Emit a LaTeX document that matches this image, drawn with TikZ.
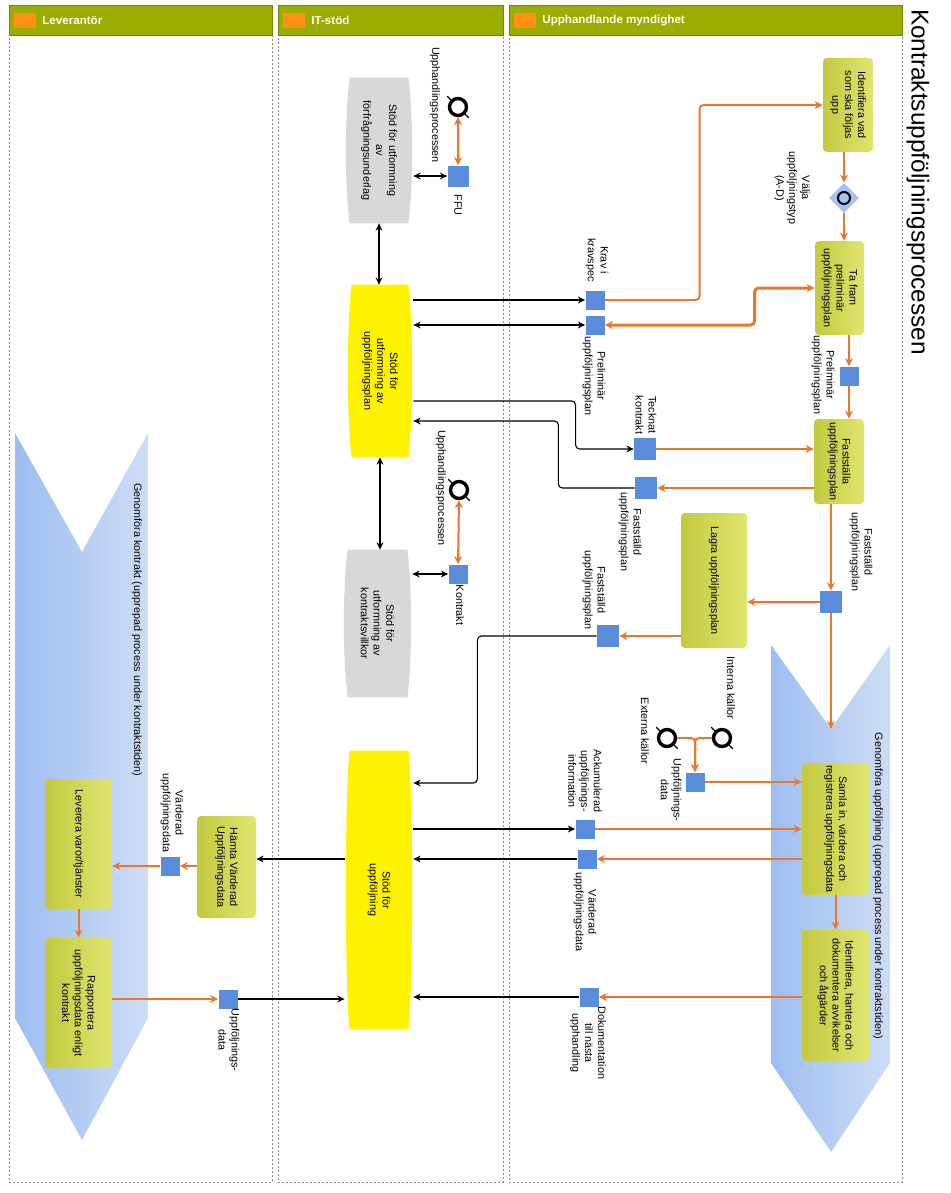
\documentclass[tikz,border=0pt]{standalone}
\usepackage{fontspec}
\setmainfont{Liberation Sans}
\usetikzlibrary{arrows.meta,calc,positioning,shapes.geometric}

\definecolor{olive1}{RGB}{196,201,64}
\definecolor{olive2}{RGB}{224,229,112}
\definecolor{hdrgreen}{RGB}{155,172,2}
\definecolor{hdredge}{RGB}{118,132,0}
\definecolor{arrorange}{RGB}{232,120,48}
\definecolor{docblue}{RGB}{90,140,220}
\definecolor{chevA}{RGB}{157,189,240}
\definecolor{chevB}{RGB}{206,221,246}
\definecolor{gwblue}{RGB}{165,195,242}
\definecolor{sysgray}{RGB}{216,216,216}
\definecolor{lanegray}{RGB}{140,140,140}
\definecolor{iconorange}{RGB}{255,145,25}

\begin{document}
\begin{tikzpicture}[x=0.5pt, y=-0.5pt,
  >={Stealth[length=4pt,width=4pt]},
  lbl/.style={rotate=-90, align=center, inner sep=0pt, font=\fontsize{5.4}{6.4}\selectfont},
  hdr/.style={anchor=west, inner sep=0pt, text=white!95!yellow, font=\bfseries\fontsize{5.8}{7}\selectfont},
  task/.style={left color=olive1, right color=olive2, rounded corners=2pt, inner sep=0pt},
  sys/.style={inner sep=0pt},
  doc/.style={fill=docblue, minimum size=9.5pt, inner sep=0pt},
  ring/.style={circle, draw, line width=1.7pt, minimum size=8.5pt, inner sep=0pt},
  oarr/.style={draw=arrorange, line width=1pt, rounded corners=2pt, ->},
  barr/.style={draw=black, line width=0.55pt, rounded corners=2pt, >={Stealth[length=3.6pt,width=3.4pt]}, ->},
]
\useasboundingbox (0,0) rectangle (950,1193);

% swimlanes
\foreach \xa/\xb/\ln in {9/272/Leverantör, 278/503/IT-stöd, 509/902/Upphandlande myndighet} {
  \draw[lanegray, line width=0.4pt, dash pattern=on 1pt off 1pt] (\xa,34) rectangle (\xb,1182);
  \draw[fill=hdrgreen, draw=hdredge, line width=0.4pt] (\xa,5) rectangle (\xb,35);
  \fill[iconorange] (\xa+5,13) rectangle (\xa+27,28);
  \node[hdr] (hdr-\xa) at (\xa+33,20.5) {\ln};
}
\node[rotate=-90, inner sep=0pt, font=\fontsize{12.2}{14}\selectfont] (title) at (918,182) {Kontraktsuppföljningsprocessen};

% repeated processes (chevrons)
\shade[left color=chevA, middle color=chevA!80!chevB, right color=chevB] (771,645) -- (831,729) -- (890,645) -- (890,1063) -- (831,1152) -- (771,1063) -- cycle;
\shade[left color=chevA, middle color=chevA!80!chevB, right color=chevB] (15,433) -- (82,552) -- (148,433) -- (148,1018) -- (82,1140) -- (15,1018) -- cycle;
\coordinate (notchU) at (831,729);
\node[lbl] (chevUpLbl) at (878,886) {Genomföra uppföljning (upprepad process under kontraktstiden)};
\node[lbl] (chevLevLbl) at (137,630) {Genomföra kontrakt (upprepad process under kontraktstiden)};

% IT systems
\node[sys, minimum width=34pt, minimum height=72.5pt] (ffuSys) at (379,150.5) {};
\node[sys, minimum width=33pt, minimum height=86pt] (utfSys) at (380,371) {};
\node[sys, minimum width=34.5pt, minimum height=73.5pt] (kontSys) at (377.5,623.5) {};
\node[sys, minimum width=34pt, minimum height=139pt] (uppSys) at (379,890) {};
\foreach \n/\c in {ffuSys/sysgray, kontSys/sysgray, utfSys/yellow, uppSys/yellow}
  \fill[\c] ([xshift=2.5pt]\n.north west) -- ([xshift=-2.5pt]\n.north east)
    .. controls ([yshift=-20pt]\n.north east) and ([yshift=20pt]\n.south east) .. ([xshift=-2.5pt]\n.south east)
    -- ([xshift=2.5pt]\n.south west)
    .. controls ([yshift=20pt]\n.south west) and ([yshift=-20pt]\n.north west) .. ([xshift=2.5pt]\n.north west) -- cycle;
\node[lbl] (ffuSysT) at (ffuSys) {Stöd för utformning\\av\\förfrågningsunderlag};
\node[lbl] (utfSysT) at (utfSys) {Stöd för\\utformning av\\uppföljningsplan};
\node[lbl] (kontSysT) at (kontSys) {Stöd för\\utformning av\\kontraktsvillkor};
\node[lbl] (uppSysT) at (uppSys) {Stöd för\\uppföljning};

% tasks
\node[task, minimum width=25pt, minimum height=47pt] (ident) at (848,105) {};
\node[task, minimum width=24.5pt, minimum height=47pt] (tafram) at (839.5,288) {};
\node[task, minimum width=25pt, minimum height=42.5pt] (faststalla) at (839,461.5) {};
\node[task, minimum width=33pt, minimum height=67.5pt] (lagra) at (714,580.5) {};
\node[task, minimum width=33.5pt, minimum height=66pt] (samla) at (835.5,829) {};
\node[task, minimum width=33.5pt, minimum height=65.5pt] (avvik) at (835.5,995.5) {};
\node[task, minimum width=29.5pt, minimum height=51pt] (hamta) at (226.5,867) {};
\node[task, minimum width=33.5pt, minimum height=65pt] (leverera) at (78.5,844) {};
\node[task, minimum width=33.5pt, minimum height=65pt] (rapp) at (78.5,1003) {};
\node[lbl] (identT) at (ident) {Identifiera vad\\som ska följas\\upp};
\node[lbl] (taframT) at (tafram) {Ta fram\\preliminär\\uppföljningsplan};
\node[lbl] (faststallaT) at (faststalla) {Fastställa\\uppföljningsplan};
\node[lbl] (lagraT) at (lagra) {Lagra uppföljningsplan};
\node[lbl] (samlaT) at (samla) {Samla in, värdera och\\registrera uppföljningsdata};
\node[lbl] (avvikT) at (avvik) {Identifiera, hantera och\\dokumentera avvikelser\\och åtgärder};
\node[lbl] (hamtaT) at (hamta) {Hämta Värderad\\Uppföljningsdata};
\node[lbl] (levereraT) at (leverera) {Leverera varor/tjänster};
\node[lbl] (rappT) at (rapp) {Rapportera\\uppföljningsdata enligt\\kontrakt};

% gateway
\node[diamond, fill=gwblue, minimum size=15pt, inner sep=0pt] (gw) at (844,198) {};
\node[circle, draw, line width=1pt, minimum size=6pt, inner sep=0pt] (gwMark) at (gw) {};

% data objects
\node[doc, minimum size=10.5pt] (ffuSq) at (458,176) {};
\node[doc] (kontSq) at (458,574) {};
\node[doc] (kravSq) at (595,300) {};
\node[doc] (prelSq) at (595,325) {};
\node[doc, minimum size=11pt] (tecknSq) at (645,449) {};
\node[doc, minimum size=11pt] (fastdSq) at (646,488) {};
\node[doc] (prel2Sq) at (849,376) {};
\node[doc, minimum size=11pt] (fast2Sq) at (831,602) {};
\node[doc, minimum size=11pt] (fast3Sq) at (608,636) {};
\node[doc] (udSq) at (695,782) {};
\node[doc] (ackSq) at (585,829) {};
\node[doc] (vardSq) at (587,859) {};
\node[doc] (dokSq) at (589,997) {};
\node[doc] (levVardSq) at (170,866) {};
\node[doc] (levUdSq) at (228,999) {};

% link events
\node[ring] (ffuRing) at (458,107) {};
\node[ring] (kontRing) at (459,490) {};
\node[ring] (intRing) at (722,738) {};
\node[ring] (extRing) at (667,738) {};
\foreach \r in {ffuRing, kontRing, intRing, extRing}
  \draw[line width=0.6pt] (\r.north west) -- ++(-1.8pt,1.8pt) (\r.south east) -- ++(1.8pt,-1.8pt);

% flows in Upphandlande myndighet
\draw[oarr] (gw.north |- ident.south) -- (gw.north);
\draw[oarr] (gw.south) -- (gw.south |- tafram.north);
\draw[oarr] (kravSq.east) -| ([xshift=-61.5pt]ident.west) -- (ident.west);
\draw[oarr, <->, line width=1.5pt] (prelSq.east) -| ([xshift=-30pt]tafram.west) -- (tafram.west);
\draw[oarr] (prel2Sq.north |- tafram.south) -- (prel2Sq.north);
\draw[oarr] (prel2Sq.south) -- (prel2Sq.south |- faststalla.north);
\draw[oarr] (tecknSq.east) -- (tecknSq -| faststalla.west);
\draw[oarr] (fastdSq -| faststalla.west) -- (fastdSq.east);
\draw[oarr] (fast2Sq.north |- faststalla.south) -- (fast2Sq.north);
\draw[oarr] (fast2Sq.west) -- (fast2Sq -| lagra.east);
\draw[oarr] (fast2Sq.south) -- (notchU);
\draw[oarr] (fast3Sq -| lagra.west) -- (fast3Sq.east);
\draw[oarr] (intRing.west) -| (udSq.north);
\draw[oarr] (extRing.east) -| (udSq.north);
\draw[oarr] (udSq.east) -- (udSq -| samla.west);
\draw[oarr] (ackSq.east) -- (ackSq -| samla.west);
\draw[oarr] (vardSq -| samla.west) -- (vardSq.east);
\draw[oarr] (samla.south) -- (avvik.north);
\draw[oarr] (dokSq -| avvik.west) -- (dokSq.east);

% flows in IT-stöd
\draw[oarr, <->] (ffuRing.south) -- (ffuSq.north);
\draw[oarr, <->] (kontRing.south) -- (kontSq.north);
\draw[barr, <->] (ffuSq -| ffuSys.east) -- (ffuSq.west);
\draw[barr, <->] (ffuSys.south) -- (ffuSys.south |- utfSys.north);
\draw[barr, <->] (utfSys.south) -- (utfSys.south |- kontSys.north);
\draw[barr, <->] (kontSq -| kontSys.east) -- (kontSq.west);
\draw[barr] (kravSq -| utfSys.east) -- (kravSq.west);
\draw[barr, <->] (prelSq -| utfSys.east) -- (prelSq.west);
\draw[barr] ([yshift=-15pt]utfSys.east) -| ($(tecknSq.west)+(-58,0)$) -- (tecknSq.west);
\draw[barr] (fastdSq.west) -| ($(utfSys.east)+(145,50)$) -- ([yshift=-25pt]utfSys.east);
\draw[barr] (fast3Sq.west) -| ($(uppSys.east)+(64,-107)$) -- ([yshift=53.5pt]uppSys.east);
\draw[barr] (ackSq -| uppSys.east) -- (ackSq.west);
\draw[barr] (vardSq.west) -- (vardSq -| uppSys.east);
\draw[barr] (dokSq.west) -- (dokSq -| uppSys.east);
\draw[barr] (vardSq -| uppSys.west) -- (vardSq -| hamta.east);
\draw[barr] (levUdSq.east) -- (levUdSq -| uppSys.west);

% flows in Leverantör
\draw[oarr] (levVardSq -| hamta.west) -- (levVardSq.east);
\draw[oarr] (levVardSq.west) -- (levVardSq -| leverera.east);
\draw[oarr] (leverera.south) -- (rapp.north);
\draw[oarr] (levUdSq -| rapp.east) -- (levUdSq.west);

% labels
\node[lbl] (ffuLbl) at (435,105) {Upphandlingsprocessen};
\node[lbl] (ffuSqLbl) at (458,205) {FFU};
\node[lbl] (kontLbl) at (441,488) {Upphandlingsprocessen};
\node[lbl] (kontSqLbl) at (460,605) {Kontrakt};
\node[lbl] (kravLbl) at (597,260) {Krav i\\kravspec};
\node[lbl] (prelLbl) at (594,376) {Preliminär\\uppföljningsplan};
\node[lbl] (tecknLbl) at (646,415) {Tecknat\\kontrakt};
\node[lbl] (fastdLbl) at (630,532) {Fastställd\\uppföljningsplan};
\node[lbl] (gwLbl) at (792,188) {Välja\\uppföljningstyp\\(A-D)};
\node[lbl] (prel2Lbl) at (823,375) {Preliminär\\uppföljningsplan};
\node[lbl] (fast2Lbl) at (861,552) {Fastställd\\uppföljningsplan};
\node[lbl] (fast3Lbl) at (594,590) {Fastställd\\uppföljningsplan};
\node[lbl] (intLbl) at (731,688) {Interna källor};
\node[lbl] (extLbl) at (645,731) {Externa källor};
\node[lbl] (udLbl) at (671,790) {Uppföljnings-\\data};
\node[lbl] (ackLbl) at (585,781) {Ackumulerad\\uppföljnings-\\information};
\node[lbl] (vardLbl) at (585,912) {Värderad\\uppföljningsdata};
\node[lbl] (dokLbl) at (588,1043) {Dokumentation\\till nästa\\upphandling};
\node[lbl] (levVardLbl) at (172,813) {Värderad\\uppföljningsdata};
\node[lbl] (levUdLbl) at (229,1040) {Uppföljnings-\\data};
\end{tikzpicture}
\end{document}
